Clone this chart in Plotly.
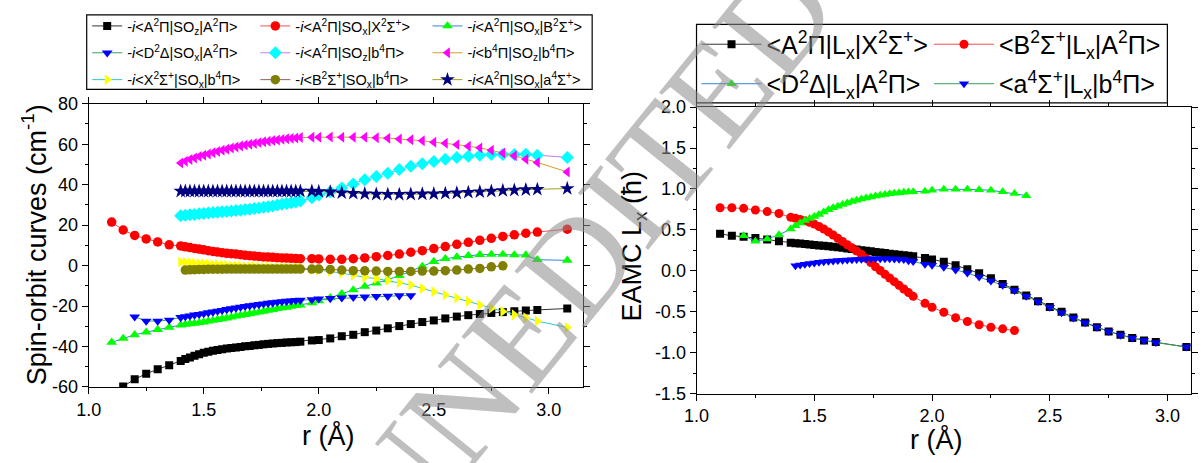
import plotly.graph_objects as go

# ---------------- data ----------------
r_sp_left = [1.10, 1.15, 1.20, 1.25, 1.30, 1.35]
r_dense = [1.40, 1.42, 1.44, 1.46, 1.48, 1.50, 1.52, 1.54, 1.56, 1.58, 1.60, 1.62, 1.64, 1.66,
           1.68, 1.70, 1.72, 1.74, 1.76, 1.78, 1.80, 1.82, 1.84, 1.86, 1.88, 1.90, 1.92]
r_sp_right = [1.97, 2.00, 2.05, 2.10, 2.15, 2.20, 2.25, 2.30, 2.35, 2.40, 2.45, 2.50, 2.55, 2.60,
              2.65, 2.70, 2.75, 2.80, 2.85, 2.90, 2.95, 3.08]

# left panel: spin-orbit curves (cm-1)
so_AA_z = [-59.7, -56.2, -53.4, -51.2, -49.3,
           -47.1, -46.2, -45.4, -44.6, -43.8, -43.1, -42.6, -42.1, -41.7, -41.3, -41.0, -40.7, -40.5, -40.2,
           -39.9, -39.7, -39.4, -39.2, -38.9, -38.7, -38.5, -38.3, -38.2, -38.0, -37.9, -37.8, -37.6,
           -37.0, -36.8, -36.0, -34.9, -34.2, -32.9, -32.1, -31.0, -29.9, -28.9, -27.9, -27.1, -26.1, -25.2,
           -24.5, -23.9, -23.4, -23.0, -22.6, -22.2, -21.9, -21.2]
so_AX_x = [21.5, 17.6, 14.9, 13.2, 11.7, 10.3,
           9.7, 9.3, 8.9, 8.5, 8.2, 7.8, 7.4, 7.0, 6.7, 6.4, 6.1, 5.9, 5.7, 5.4,
           5.1, 4.9, 4.7, 4.5, 4.3, 4.2, 4.1, 3.9, 3.8, 3.7, 3.6, 3.5, 3.4,
           3.4, 3.3, 3.1, 3.1, 3.4, 3.8, 4.4, 5.0, 5.7, 6.6, 7.4, 8.4, 9.4, 10.5,
           11.5, 12.5, 13.5, 14.4, 15.2, 16.0, 16.6, 18.0]
so_AB_x = [-37.9, -36.0, -34.2, -32.9, -31.6, -30.5,
           -29.4, -29.1, -28.8, -28.5, -28.2, -27.9, -27.5, -27.1, -26.7, -26.3, -25.9, -25.5, -25.0, -24.6,
           -24.2, -23.8, -23.4, -23.0, -22.6, -22.1, -21.7, -21.3, -20.9, -20.6, -20.2, -19.8, -19.5,
           -18.4, -17.4, -15.9, -13.9, -12.0, -10.3, -8.6, -7.0, -5.0, -2.8, -0.4, 2.0, 3.4, 4.2,
           4.9, 5.4, 5.5, 5.5, 5.3, 5.2, 2.9, 2.6]
so_DA_x = [-25.3, -27.4, -27.4, -26.9,
           -25.6, -25.2, -24.8, -24.4, -24.1, -23.7, -23.3, -22.9, -22.5, -22.1, -21.7, -21.3, -20.9, -20.5,
           -20.1, -19.8, -19.5, -19.2, -18.9, -18.6, -18.3, -18.0, -17.8, -17.6, -17.4, -17.2, -17.1,
           -16.8, -16.4, -16.2, -15.9, -15.6, -15.5, -15.2, -15.1, -14.9, -14.8]
so_Ab_z = [24.7, 24.9, 25.1, 25.3, 25.6, 25.8, 26.0, 26.2, 26.4, 26.6, 26.8, 27.0, 27.2, 27.4,
           27.7, 27.9, 28.2, 28.5, 28.8, 29.1, 29.5, 29.9, 30.3, 30.7, 31.1, 31.5, 31.9,
           33.6, 34.9, 36.5, 38.4, 40.4, 42.5, 44.0, 45.6, 47.5, 49.1, 50.3, 51.5, 52.6, 53.5,
           54.1, 54.6, 54.9, 54.9, 54.9, 55.1, 54.6, 53.5]
so_bb_z = [50.7, 51.6, 52.4, 53.2, 53.9, 54.6, 55.2, 55.8, 56.4, 57.0, 57.5, 58.1, 58.6, 59.1,
           59.6, 60.0, 60.4, 60.8, 61.2, 61.5, 61.8, 62.1, 62.4, 62.7, 62.9, 63.1, 63.3,
           63.4, 63.5, 63.6, 63.5, 63.5, 63.4, 63.2, 63.0, 62.6, 62.2, 61.7, 61.0, 60.5, 59.8,
           59.0, 58.2, 57.0, 55.7, 54.3, 52.6, 51.0, 46.3]
so_Xb_x = [1.8, 1.6, 1.4, 1.2, 1.0, 0.9, 0.7, 0.5, 0.4, 0.2, 0.1, -0.1, -0.2, -0.3,
           -0.4, -0.5, -0.6, -0.7, -0.8, -0.8, -0.9, -0.9, -1.0, -1.0, -1.1, -1.1, -1.2,
           -1.9, -2.2, -2.9, -3.7, -4.8, -5.8, -6.4, -7.4, -8.5, -9.6, -11.3, -12.9, -14.5, -16.0,
           -17.6, -19.5, -21.1, -22.7, -24.3, -25.8, -27.4, -30.6]
so_Bb_x = [-2.2, -2.1, -2.0, -1.9, -1.9, -1.8, -1.8, -1.8, -1.8, -1.7, -1.7, -1.7, -1.7,
           -1.7, -1.7, -1.7, -1.7, -1.7, -1.7, -1.7, -1.7, -1.7, -1.7, -1.7, -1.7, -1.7,
           -1.7, -1.7, -1.9, -2.2, -2.5, -2.6, -2.7, -2.9, -2.9, -2.9, -2.7, -2.7, -2.5, -2.2,
           -1.7, -1.4, -0.6, -0.1]
so_Aa_x = [36.8, 36.8, 36.8, 36.8, 36.8, 36.8, 36.8, 36.8, 36.8, 36.8, 36.8, 36.8, 36.8, 36.8,
           36.8, 36.8, 36.8, 36.8, 36.8, 36.8, 36.8, 36.8, 36.8, 36.8, 36.8, 36.8, 36.8,
           36.8, 36.6, 36.4, 36.0, 35.7, 35.5, 35.3, 35.2, 35.2, 35.3, 35.4, 35.5, 35.7, 35.9,
           36.2, 36.5, 36.8, 37.1, 37.3, 37.5, 37.7, 38.1]

# right panel: EAMC Lx (hbar)
lx_AX = [0.452, 0.429, 0.417, 0.402, 0.383, 0.362,
         0.343, 0.338, 0.333, 0.328, 0.322, 0.317, 0.311, 0.306, 0.300, 0.294, 0.288, 0.281, 0.274, 0.267,
         0.260, 0.253, 0.246, 0.239, 0.232, 0.225, 0.217, 0.210, 0.203, 0.197, 0.191, 0.185, 0.180,
         0.157, 0.140, 0.110, 0.070, 0.020, -0.030, -0.090, -0.160, -0.230, -0.300, -0.370, -0.440,
         -0.500, -0.570, -0.630, -0.690, -0.740, -0.780, -0.820, -0.850, -0.870, -0.930]
lx_BA = [0.771, 0.771, 0.764, 0.744, 0.724, 0.701,
         0.654, 0.642, 0.628, 0.612, 0.594, 0.571, 0.542, 0.511, 0.476, 0.438, 0.398, 0.358, 0.319, 0.281,
         0.242, 0.200, 0.152, 0.101, 0.050, 0.004, -0.042, -0.087, -0.132, -0.177, -0.222, -0.265, -0.311,
         -0.397, -0.444, -0.506, -0.572, -0.619, -0.658, -0.689, -0.708, -0.728]
lx_DA = [0.429, 0.362, 0.390, 0.440,
         0.510, 0.550, 0.585, 0.615, 0.640, 0.665, 0.690, 0.720, 0.745, 0.770, 0.790, 0.812, 0.830, 0.847,
         0.863, 0.877, 0.890, 0.903, 0.915, 0.925, 0.934, 0.942, 0.949, 0.955, 0.960, 0.963, 0.966,
         0.973, 0.985, 0.996, 0.996, 0.996, 0.992, 0.985, 0.966, 0.946, 0.919]
lx_ab = [0.063, 0.072, 0.081, 0.090, 0.097, 0.104, 0.111, 0.117, 0.122, 0.126, 0.129, 0.132, 0.135,
         0.138, 0.141, 0.144, 0.147, 0.148, 0.148, 0.148, 0.147, 0.145, 0.142, 0.138, 0.125, 0.115,
         0.082, 0.070, 0.043, 0.012, -0.027, -0.074, -0.124, -0.175, -0.241, -0.311, -0.375, -0.445,
         -0.510, -0.575, -0.635, -0.690, -0.740, -0.785, -0.820, -0.850, -0.875, -0.930]

so_xticks = [1.0, 1.5, 2.0, 2.5, 3.0]
so_xticktext = ["1.0", "1.5", "2.0", "2.5", "3.0"]
so_yticks = [80, 60, 40, 20, 0, -20, -40, -60]
so_yticktext = ["80", "60", "40", "20", "0", "-20", "-40", "-60"]
lx_yticks = [2.0, 1.5, 1.0, 0.5, 0.0, -0.5, -1.0, -1.5]
lx_yticktext = ["2.0", "1.5", "1.0", "0.5", "0.0", "-0.5", "-1.0", "-1.5"]

# ---------------- figure ----------------
W, H = 1201, 463
FONT = "Liberation Sans, Arial, sans-serif"


def px(x):
    return x / W


def py(y):
    return 1 - y / H


fig = go.Figure()


def add(xs, ys, name, lcol, mcol, sym, size, leg, xa, ya):
    fig.add_trace(go.Scatter(
        x=xs, y=ys, name=name, mode="lines+markers",
        line=dict(color=lcol, width=1),
        marker=dict(symbol=sym, color=mcol, size=size, line=dict(width=0)),
        legend=leg, legendgroup=name, xaxis=xa, yaxis=ya))


I = "-<i>i</i>&lt;"
Pi = "Π"
# left panel traces (legend columns: legend, legend2, legend3)
add(r_sp_left[1:] + r_dense + r_sp_right, so_AA_z,
    I + "A<sup>2</sup>" + Pi + "|SO<sub>z</sub>|A<sup>2</sup>" + Pi + "&gt;",
    "#333333", "#000000", "square", 8, "legend", "x", "y")
add(r_sp_left + r_dense + r_sp_right, so_AX_x,
    I + "A<sup>2</sup>" + Pi + "|SO<sub>x</sub>|X<sup>2</sup>Σ<sup>+</sup>&gt;",
    "#f05050", "#ff0000", "circle", 9.5, "legend2", "x", "y")
add(r_sp_left + r_dense + r_sp_right, so_AB_x,
    I + "A<sup>2</sup>" + Pi + "|SO<sub>x</sub>|B<sup>2</sup>Σ<sup>+</sup>&gt;",
    "#3a7fdc", "#00ff00", "triangle-up", 9.5, "legend3", "x", "y")
add(r_sp_left[2:] + r_dense + r_sp_right[:10], so_DA_x,
    I + "D<sup>2</sup>Δ|SO<sub>x</sub>|A<sup>2</sup>" + Pi + "&gt;",
    "#3aa060", "#0000ff", "triangle-down", 9.5, "legend", "x", "y")
add(r_dense + r_sp_right, so_Ab_z,
    I + "A<sup>2</sup>" + Pi + "|SO<sub>z</sub>|b<sup>4</sup>" + Pi + "&gt;",
    "#c080e8", "#00ffff", "diamond", 10, "legend2", "x", "y")
add(r_dense + r_sp_right, so_bb_z,
    I + "b<sup>4</sup>" + Pi + "|SO<sub>z</sub>|b<sup>4</sup>" + Pi + "&gt;",
    "#d0a020", "#ff00ff", "triangle-left", 9.5, "legend3", "x", "y")
add(r_dense + r_sp_right, so_Xb_x,
    I + "X<sup>2</sup>Σ<sup>+</sup>|SO<sub>x</sub>|b<sup>4</sup>" + Pi + "&gt;",
    "#30c8c8", "#ffff00", "triangle-right", 9.5, "legend", "x", "y")
add(r_dense[1:] + r_sp_right[:18], so_Bb_x,
    I + "B<sup>2</sup>Σ<sup>+</sup>|SO<sub>x</sub>|b<sup>4</sup>" + Pi + "&gt;",
    "#906060", "#808000", "circle", 9.5, "legend2", "x", "y")
add(r_dense + r_sp_right, so_Aa_x,
    I + "A<sup>2</sup>" + Pi + "|SO<sub>x</sub>|a<sup>4</sup>Σ<sup>+</sup>&gt;",
    "#a0a020", "#000080", "star", 11, "legend3", "x", "y")

# right panel traces (legend4, legend5)
add(r_sp_left + r_dense + r_sp_right, lx_AX,
    "&lt;A<sup>2</sup>" + Pi + "|L<sub>x</sub>|X<sup>2</sup>Σ<sup>+</sup>&gt;",
    "#333333", "#000000", "square", 8, "legend4", "x2", "y2")
add(r_sp_left + r_dense + r_sp_right[:9], lx_BA,
    "&lt;B<sup>2</sup>Σ<sup>+</sup>|L<sub>x</sub>|A<sup>2</sup>" + Pi + "&gt;",
    "#f05050", "#ff0000", "circle", 9, "legend5", "x2", "y2")
add(r_sp_left[2:] + r_dense + r_sp_right[:10], lx_DA,
    "&lt;D<sup>2</sup>Δ|L<sub>x</sub>|A<sup>2</sup>" + Pi + "&gt;",
    "#3a7fdc", "#00ff00", "triangle-up", 9, "legend4", "x2", "y2")
add(r_dense[1:] + r_sp_right, lx_ab,
    "&lt;a<sup>4</sup>Σ<sup>+</sup>|L<sub>x</sub>|b<sup>4</sup>" + Pi + "&gt;",
    "#3aa060", "#0000ff", "triangle-down", 9, "legend5", "x2", "y2")

axis_common = dict(showline=True, linecolor="black", linewidth=1, mirror="allticks",
                   ticks="outside", ticklen=6, tickwidth=1, tickcolor="black",
                   showgrid=False, zeroline=False,
                   tickfont=dict(family=FONT, size=18, color="black"))

L_x0, L_x1, L_y0, L_y1 = 76.5, 576.6, 98, 394
R_x0, R_x1, R_y0, R_y1 = 691, 1191, 101.5, 401

fig.update_layout(
    width=W, height=H, margin=dict(l=0, r=0, t=0, b=0),
    paper_bgcolor="white", plot_bgcolor="white",
    font=dict(family=FONT, color="black"),
    xaxis=dict(domain=[px(L_x0), px(L_x1)], range=[1.0, 3.15], anchor="y",
               tickvals=so_xticks, ticktext=so_xticktext,
               minor=dict(dtick=0.25, tick0=1.0, ticklen=3, ticks="outside", tickcolor="black"),
               **axis_common),
    yaxis=dict(domain=[py(L_y1), py(L_y0)], range=[-60, 80], anchor="x",
               tickvals=so_yticks, ticktext=so_yticktext,
               minor=dict(dtick=10, tick0=0, ticklen=3, ticks="outside", tickcolor="black"),
               **axis_common),
    xaxis2=dict(domain=[px(R_x0), px(R_x1)], range=[1.0, 3.1], anchor="y2",
                tickvals=so_xticks, ticktext=so_xticktext,
                minor=dict(dtick=0.25, tick0=1.0, ticklen=3, ticks="outside", tickcolor="black"),
                **axis_common),
    yaxis2=dict(domain=[py(R_y1), py(R_y0)], range=[-1.5, 2.0], anchor="x2",
                tickvals=lx_yticks, ticktext=lx_yticktext,
                minor=dict(dtick=0.25, tick0=0, ticklen=3, ticks="outside", tickcolor="black"),
                **axis_common),
    showlegend=True,
)

leg_common = dict(xanchor="left", yanchor="top", bgcolor="rgba(0,0,0,0)", borderwidth=0,
                  traceorder="grouped", tracegroupgap=5,
                  font=dict(family=FONT, size=14.5, color="black"))
big = dict(family=FONT, size=25, color="black")
fig.update_layout(
    legend=dict(x=px(75), y=py(0), **leg_common),
    legend2=dict(x=px(245), y=py(0), **leg_common),
    legend3=dict(x=px(419), y=py(0), **leg_common),
    legend4=dict(x=px(691), y=py(12), itemwidth=60, **{**leg_common, "font": big, "tracegroupgap": 4}),
    legend5=dict(x=px(926), y=py(12), itemwidth=60, **{**leg_common, "font": big, "tracegroupgap": 4}),
)

# legend boxes
fig.add_shape(type="rect", xref="paper", yref="paper", x0=px(74.5), x1=px(585.5), y0=py(83), y1=py(5),
              line=dict(color="black", width=1.2), fillcolor="rgba(0,0,0,0)", layer="above")
fig.add_shape(type="rect", xref="paper", yref="paper", x0=px(691), x1=px(1167), y0=py(97), y1=py(15),
              line=dict(color="black", width=1.2), fillcolor="rgba(0,0,0,0)", layer="above")

# axis titles
title_font = dict(family=FONT, size=27, color="black")
fig.add_annotation(text="Spin-orbit curves (cm<sup>-1</sup>)", xref="paper", yref="paper",
                   x=px(22), y=py(245), textangle=-90, showarrow=False,
                   xanchor="center", yanchor="middle", font=title_font)
fig.add_annotation(text="r (Å)", xref="paper", yref="paper", x=px(318), y=py(445), showarrow=False,
                   xanchor="center", yanchor="middle", font=title_font)
fig.add_annotation(text="EAMC L<sub>x</sub> (ħ)", xref="paper", yref="paper",
                   x=px(628), y=py(247), textangle=-90, showarrow=False,
                   xanchor="center", yanchor="middle", font=title_font)
fig.add_annotation(text="r (Å)", xref="paper", yref="paper", x=px(933), y=py(449), showarrow=False,
                   xanchor="center", yanchor="middle", font=title_font)

# watermark
fig.add_annotation(text="UNEDITED", xref="paper", yref="paper", x=px(580), y=py(252),
                   xanchor="center", yanchor="middle",
                   textangle=-51, showarrow=False, opacity=0.55,
                   font=dict(family="Liberation Serif, DejaVu Serif, serif", size=138, color="#8c8c8c"))

fig.write_html("out.html", post_script="document.body.style.margin='0';")
